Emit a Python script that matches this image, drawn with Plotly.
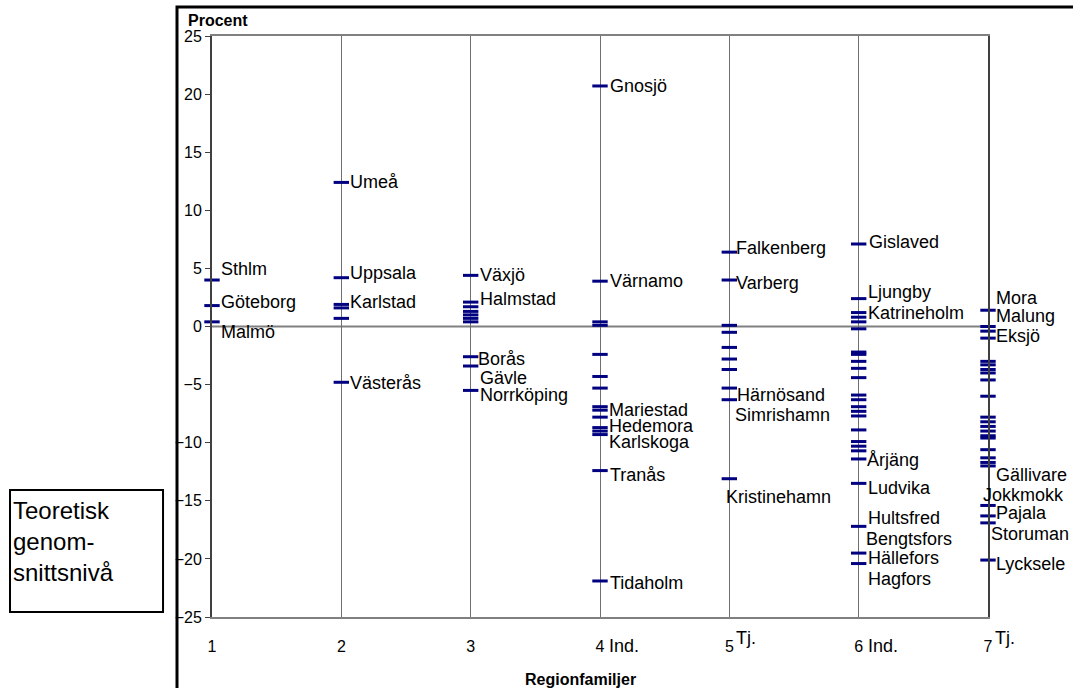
import plotly.graph_objects as go

# ---------------- data ----------------
family_ticks = [1, 2, 3, 4, 5, 6, 7]
family_tick_text = ["1", "2", "3", "4", "5", "6", "7"]
family_suffix = ["", "", "", "Ind.", "Tj.", "Ind.", "Tj."]
y_ticks = [-25, -20, -15, -10, -5, 0, 5, 10, 15, 20, 25]

fam1 = [4.0, 1.8, 0.4]
fam2 = [12.4, 4.2, 1.9, 1.6, 0.7, -4.8]
fam3 = [4.4, 2.1, 1.7, 1.3, 1.0, 0.7, 0.4, -2.6, -3.4, -5.5]
fam4 = [20.7, 3.9, 0.4, 0.1, -2.4, -4.3, -5.3, -6.9, -7.2, -7.8, -8.7, -9.0, -9.3,
        -12.4, -21.9]
fam5 = [6.4, 4.0, 0.1, -0.5, -1.8, -2.8, -3.7, -5.3, -6.3, -13.1]
fam6 = [7.1, 2.4, 1.2, 0.8, 0.4, -0.2, -2.2, -2.4, -3.0, -3.6, -4.4, -5.9, -6.3,
        -6.9, -7.3, -7.7, -8.9, -9.9, -10.3, -10.7, -11.4, -13.5, -17.2, -19.5, -20.4]
fam7 = [1.4, 0.0, -0.4, -1.0, -3.0, -3.3, -3.7, -4.0, -4.6, -6.0, -7.8, -8.2, -8.6,
        -9.0, -9.4, -9.6, -10.6, -11.3, -11.7, -12.0, -15.4, -16.3, -16.9, -20.1]
families = [fam1, fam2, fam3, fam4, fam5, fam6, fam7]

label_names = ["Sthlm", "Göteborg", "Malmö",
               "Umeå", "Uppsala", "Karlstad", "Västerås",
               "Växjö", "Halmstad", "Borås", "Gävle", "Norrköping",
               "Gnosjö", "Värnamo", "Mariestad", "Hedemora", "Karlskoga", "Tranås", "Tidaholm",
               "Falkenberg", "Varberg", "Härnösand", "Simrishamn", "Kristinehamn",
               "Gislaved", "Ljungby", "Katrineholm", "Årjäng", "Ludvika", "Hultsfred",
               "Bengtsfors", "Hällefors", "Hagfors",
               "Mora", "Malung", "Eksjö", "Gällivare", "Jokkmokk", "Pajala", "Storuman",
               "Lycksele"]
label_family = [1, 1, 1,
                2, 2, 2, 2,
                3, 3, 3, 3, 3,
                4, 4, 4, 4, 4, 4, 4,
                5, 5, 5, 5, 5,
                6, 6, 6, 6, 6, 6, 6, 6, 6,
                7, 7, 7, 7, 7, 7, 7, 7]
label_values = [4.0, 1.8, 0.4,
                12.4, 4.2, 1.9, -4.8,
                4.4, 2.1, -2.6, -3.4, -5.5,
                20.7, 3.9, -7.2, -7.8, -9.0, -12.4, -21.9,
                6.4, 4.0, -5.3, -6.3, -13.1,
                7.1, 2.4, 1.2, -11.4, -13.5, -17.2, -19.5, -19.5, -20.4,
                1.4, 0.0, -1.0, -12.0, -15.4, -16.3, -16.9, -20.1]

# label placement (pixels): downward shift and horizontal shift from the point
label_dy = [-11, -4, 10,
            0, -5, -2, 1,
            0, -3, 2, 12, 5,
            0, 0, 0, 9, 11, 4, 2,
            -4, 3, 7, 15, 18,
            -2, -7, 0, 1, 5, -8, -14, 5, 15,
            -12, -11, -2, 9, -10, -3, 11, 4]
label_dx = [7, 7, 7,
            7, 7, 7, 7,
            7, 7, 5, 7, 7,
            8, 8, 7, 7, 7, 8, 8,
            5, 5, 6, 4, -5,
            8, 7, 7, 6, 7, 7, 5, 7, 7,
            6, 6, 6, 6, -7, 6, 1, 6]

NAVY = "#000080"
FONT = "Liberation Sans, Arial, sans-serif"

xs, ys = [], []
for fam_x, vals in zip(family_ticks, families):
    xs += [fam_x] * len(vals)
    ys += vals

fig = go.Figure()
fig.add_trace(go.Scatter(
    x=xs, y=ys, mode="markers", cliponaxis=False, showlegend=False,
    marker=dict(symbol="line-ew", size=11, color=NAVY,
                line=dict(color=NAVY, width=3)),
    hoverinfo="y",
))

annotations = []
for name, fx, v, dy, dx in zip(label_names, label_family, label_values, label_dy, label_dx):
    annotations.append(dict(
        x=fx, y=v, xref="x", yref="y", text=name, showarrow=False,
        xanchor="left", yanchor="middle", xshift=dx, yshift=-dy,
        font=dict(family=FONT, size=18, color="#000000"),
    ))

for fx, suf in zip(family_ticks, family_suffix):
    if not suf:
        continue
    raised = suf == "Tj."
    annotations.append(dict(
        x=fx, y=-0.036 if raised else -0.05, xref="x", yref="paper", text=suf,
        showarrow=False, xanchor="left", yanchor="middle",
        xshift=5 if raised else 7,
        font=dict(family=FONT, size=18, color="#000000"),
    ))

annotations.append(dict(
    x=-0.033, y=1.026, xref="paper", yref="paper", text="<b>Procent</b>",
    showarrow=False, xanchor="left", yanchor="middle",
    font=dict(family=FONT, size=16, color="#000000"),
))
annotations.append(dict(
    x=0.4755, y=-0.108, xref="paper", yref="paper", text="<b>Regionfamiljer</b>",
    showarrow=False, xanchor="center", yanchor="middle",
    font=dict(family=FONT, size=16, color="#000000"),
))
annotations.append(dict(
    x=-0.259, y=0.21, xref="paper", yref="paper",
    text="Teoretisk<br>genom-<br>snittsnivå", align="left",
    showarrow=False, xanchor="left", yanchor="top",
    font=dict(family=FONT, size=24, color="#000000"),
))

shapes = [
    # legend-like box
    dict(type="rect", xref="paper", yref="paper", x0=-0.2603, x1=-0.0631,
         y0=0.0086, y1=0.2186, line=dict(color="#000000", width=2)),
    # outer chart frame
    dict(type="rect", xref="paper", yref="paper", x0=-0.0451, x1=1.3,
         y0=-0.3, y1=1.05, line=dict(color="#000000", width=3)),
    # zero line
    dict(type="line", xref="paper", yref="y", x0=0, x1=1, y0=0, y1=0,
         line=dict(color="#808080", width=2), layer="below"),
]

fig.update_layout(
    width=1073, height=688,
    margin=dict(l=212, r=85, t=36, b=71),
    paper_bgcolor="white", plot_bgcolor="white",
    annotations=annotations, shapes=shapes,
    font=dict(family=FONT, color="#000000"),
    showlegend=False,
)
fig.update_xaxes(
    range=[1, 7], tickvals=family_ticks, ticktext=family_tick_text,
    showgrid=True, gridcolor="#707070", gridwidth=1,
    zeroline=False, showline=True, linecolor="#808080", linewidth=2, mirror=True,
    ticks="", tickfont=dict(size=16, family=FONT, color="#000000"),
    ticklabelstandoff=14,
)
fig.update_yaxes(
    range=[-25, 25], tickvals=y_ticks,
    showgrid=False, zeroline=False,
    showline=True, linecolor="#404040", linewidth=2, mirror=True,
    ticks="outside", ticklen=5, tickcolor="#404040", tickwidth=1,
    tickfont=dict(size=16, family=FONT, color="#000000"),
)

fig.write_html("out.html", config={"displayModeBar": False},
               post_script="document.body.style.margin='0';document.body.style.overflow='hidden';")
